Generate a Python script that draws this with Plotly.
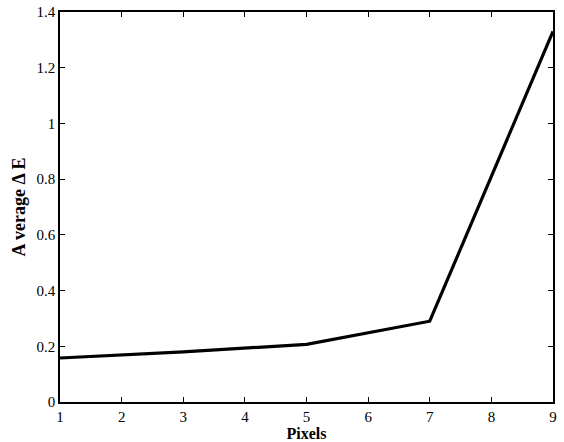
import plotly.graph_objects as go

pixels = [1, 3, 5, 7, 9]
avg_delta_e = [0.158, 0.18, 0.207, 0.29, 1.33]
x_ticks = [1, 2, 3, 4, 5, 6, 7, 8, 9]
y_ticks = [0, 0.2, 0.4, 0.6, 0.8, 1, 1.2, 1.4]
y_tick_labels = ["0", "0.2", "0.4", "0.6", "0.8", "1", "1.2", "1.4"]

fig = go.Figure()
fig.add_trace(go.Scatter(x=pixels, y=avg_delta_e, mode="lines",
                         line=dict(color="black", width=3.2), showlegend=False,
                         cliponaxis=False))

axis_common = dict(showline=True, linecolor="black", linewidth=1.5, mirror="ticks",
                   ticks="inside", ticklen=5, tickcolor="black", tickwidth=1,
                   showgrid=False, zeroline=False, automargin=False,
                   tickfont=dict(family="Liberation Serif", size=15, color="black"))

fig.update_layout(
    width=564, height=442,
    margin=dict(l=60, r=11, t=12, b=40),
    paper_bgcolor="white", plot_bgcolor="white",
    xaxis=dict(range=[1, 9], tickvals=x_ticks,
               title=dict(text="<b>Pixels</b>", standoff=0,
                          font=dict(family="Liberation Serif", size=16, color="black")),
               **axis_common),
    yaxis=dict(range=[0, 1.4], tickvals=y_ticks, ticktext=y_tick_labels,
               title=dict(text="<b>A verage Δ E</b>", standoff=6,
                          font=dict(family="Liberation Serif", size=18, color="black")),
               **axis_common),
)

fig.write_html("out.html", config={"displayModeBar": False},
               post_script="document.body.style.margin='0';document.body.style.overflow='hidden';")
